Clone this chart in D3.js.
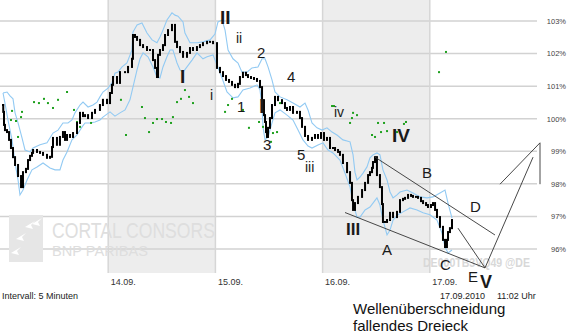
<!DOCTYPE html>
<html>
<head>
<meta charset="utf-8">
<script src="https://cdn.jsdelivr.net/npm/d3@7"></script>
<style>
  body { margin: 0; background: #fff; }
  svg { display: block; font-family: "Liberation Sans", Arial, sans-serif; }
</style>
</head>
<body>
<div id="chart"></div>
<script>
// Tage (13.09. wird nicht beschriftet)
const days = ["13.09.", "14.09.", "15.09.", "16.09.", "17.09."];
const shadedDays = [1, 3];
const yTicks = [96, 97, 98, 99, 100, 101, 102, 103];

// Kurs in % (Zeit in Handelstagen ab 13.09.)
const priceT = [0.019,0.021,0.028,0.037,0.056,0.075,0.093,0.112,0.131,0.159,0.187,0.205,0.233,0.252,0.271,0.289,0.299,0.336,0.364,0.392,0.429,0.457,0.476,0.485,0.522,0.550,0.578,0.597,0.616,0.644,0.672,0.709,0.737,0.765,0.784,0.812,0.849,0.877,0.923,0.951,0.989,
  1.017,1.035,1.045,1.082,1.110,1.157,1.185,1.222,1.231,1.250,1.269,1.297,1.325,1.362,1.390,1.418,1.437,1.455,1.465,1.483,1.511,1.530,1.558,1.595,1.623,1.642,1.670,1.698,1.735,1.763,1.791,1.828,1.856,1.884,1.922,1.950,1.978,
  2.015,2.043,2.071,2.099,2.127,2.155,2.183,2.211,2.229,2.257,2.285,2.304,2.332,2.360,2.388,2.416,2.435,2.453,2.463,2.472,2.481,2.491,2.509,2.528,2.556,2.584,2.621,2.649,2.668,2.696,2.724,2.761,2.789,2.808,2.836,2.864,2.901,2.929,2.957,2.985,
  3.013,3.041,3.069,3.097,3.116,3.144,3.162,3.190,3.228,3.256,3.274,3.284,3.302,3.330,3.368,3.396,3.424,3.442,3.461,3.470,3.489,3.507,3.535,3.554,3.563,3.582,3.601,3.629,3.657,3.694,3.722,3.750,3.769,3.797,3.825,3.843,3.871,3.890,3.918,3.937,3.965,3.983,
  4.011,4.030,4.049,4.067,4.095,4.123,4.142,4.160,4.170,4.188,4.207];
const price = [100.42,100.21,99.81,99.65,99.59,99.35,99.10,98.82,98.58,98.24,97.90,98.36,98.46,98.73,98.86,98.95,99.04,98.98,98.95,98.89,98.80,98.83,99.13,99.41,99.20,99.44,99.59,99.35,99.50,99.44,99.56,99.87,100.18,100.08,100.11,100.02,100.18,100.27,100.42,100.58,100.48,
  100.79,101.04,101.28,101.10,101.43,101.43,101.59,101.84,102.57,102.51,102.42,102.26,102.20,102.11,102.11,101.80,101.56,101.28,101.96,102.11,102.26,102.57,102.72,102.88,102.36,102.20,102.05,101.90,102.02,102.17,102.11,102.20,102.26,102.32,102.36,102.36,102.32,
  101.56,101.43,101.31,101.19,101.13,101.04,100.97,101.07,101.28,101.41,101.34,101.28,101.25,101.22,101.16,100.97,100.57,100.11,99.90,99.59,99.44,99.72,100.02,100.42,100.67,100.57,100.48,100.33,100.27,100.36,100.18,100.21,100.02,99.75,99.47,99.35,99.41,99.50,99.41,99.56,
  99.35,99.41,99.10,99.10,99.04,98.98,98.89,98.64,98.36,98.03,97.50,97.20,97.41,97.60,97.81,98.03,98.27,98.36,98.49,98.67,98.82,98.27,97.90,97.38,96.83,96.83,96.89,97.11,96.98,97.14,97.50,97.54,97.57,97.66,97.63,97.60,97.60,97.57,97.47,97.41,97.35,97.29,
  97.35,97.41,97.20,96.98,96.68,96.28,96.06,96.28,96.52,96.64,96.89];

// Bollinger-Bänder
const upperT = [0.019,0.056,0.084,0.112,0.131,0.159,0.196,0.224,0.271,0.299,0.364,0.429,0.485,0.532,0.578,0.625,0.662,0.690,0.737,0.765,0.812,0.858,0.896,0.923,0.951,0.998,1.035,1.063,1.091,1.129,1.175,1.222,1.231,1.269,1.315,1.362,1.409,1.455,1.483,1.511,1.548,1.595,1.623,1.651,1.698,1.716,1.763,1.828,1.884,1.950,1.996,2.024,2.062,2.090,2.118,2.164,2.211,2.248,2.295,2.341,2.397,2.435,2.463,2.491,2.528,2.556,2.603,2.668,2.724,2.789,2.836,2.864,2.901,2.948,2.994,3.041,3.088,3.134,3.190,3.256,3.284,3.302,3.321,3.349,3.377,3.414,3.442,3.470,3.507,3.535,3.563,3.601,3.629,3.657,3.694,3.722,3.787,3.843,3.909,3.974,4.030,4.095,4.142,4.170,4.207];
const upper = [100.79,100.82,100.70,100.61,100.18,99.87,99.41,99.04,98.98,99.10,99.20,99.26,99.56,99.65,99.87,99.87,99.96,100.18,100.42,100.51,100.36,100.42,100.51,100.67,100.82,100.94,101.10,101.40,101.43,101.59,101.71,102.11,102.66,102.88,102.94,102.63,102.42,102.33,102.51,102.72,103.03,103.25,103.18,103.15,102.97,102.63,102.33,102.33,102.36,102.42,102.60,102.97,103.03,102.72,102.11,101.84,101.71,101.43,101.43,101.56,101.59,101.84,101.84,101.59,101.19,100.82,100.67,100.58,100.48,100.36,100.48,100.27,99.87,99.72,99.65,99.72,99.59,99.50,99.35,99.29,98.89,98.36,98.12,98.21,98.33,98.52,98.80,98.89,98.95,98.89,98.43,98.12,97.75,97.57,97.66,97.75,97.81,97.72,97.60,97.57,97.60,97.72,97.81,97.41,96.95];
const lowerT = [0.019,0.037,0.065,0.103,0.131,0.159,0.177,0.205,0.243,0.289,0.336,0.392,0.457,0.504,0.550,0.578,0.616,0.662,0.709,0.756,0.784,0.830,0.877,0.923,0.951,1.017,1.063,1.110,1.157,1.203,1.231,1.269,1.297,1.325,1.371,1.418,1.455,1.483,1.511,1.548,1.577,1.604,1.642,1.670,1.698,1.735,1.782,1.828,1.884,1.922,1.978,2.015,2.062,2.108,2.164,2.211,2.257,2.323,2.388,2.416,2.435,2.444,2.463,2.491,2.528,2.556,2.603,2.668,2.724,2.771,2.817,2.864,2.901,2.957,3.004,3.050,3.097,3.162,3.209,3.256,3.284,3.321,3.349,3.396,3.442,3.470,3.507,3.535,3.563,3.601,3.629,3.657,3.703,3.750,3.815,3.881,3.937,4.002,4.067,4.114,4.142,4.170,4.207];
const lower = [100.79,100.48,99.96,99.35,98.64,98.12,97.66,97.81,98.12,98.43,98.52,98.64,98.49,98.43,98.43,98.73,98.98,99.35,99.50,99.75,99.87,99.87,99.90,99.96,100.05,100.21,100.08,100.18,100.27,100.58,100.97,101.50,101.84,102.02,101.90,101.59,101.28,101.25,101.59,101.90,102.11,102.11,101.71,101.50,101.43,101.59,101.80,102.02,101.84,101.90,101.96,101.65,101.25,100.82,100.64,100.67,100.88,100.94,101.04,100.88,100.36,99.75,99.35,99.44,99.87,100.18,100.27,100.11,99.96,99.65,99.35,99.16,99.10,99.19,99.26,99.04,98.95,98.73,98.33,97.90,97.41,96.98,96.98,97.20,97.29,97.41,97.57,97.35,96.89,96.43,96.58,96.89,97.05,97.14,97.26,97.20,97.11,97.05,96.89,96.49,96.06,95.88,95.97];

// Parabolic SAR (grüne Punkte)
const sarT = [0.093,0.103,0.140,0.159,0.187,0.196,0.308,0.354,0.401,0.438,0.485,0.532,0.616,0.681,0.709,0.737,0.840,1.119,1.166,1.315,1.343,1.381,1.418,1.455,1.502,1.539,1.586,1.604,1.642,1.679,1.716,1.754,1.791,2.090,2.118,2.155,2.257,2.313,2.407,2.444,2.519,2.537,2.575,2.603,3.088,3.106,3.256,3.274,3.284,3.321,3.461,3.489,3.517,3.545,3.573,3.601,3.694,3.759,3.778,4.086,4.151];
const sar = [99.96,100.24,99.93,99.44,100.05,100.21,100.51,100.48,100.61,100.48,100.33,100.58,100.82,100.27,99.90,99.75,99.87,100.58,99.50,100.36,100.02,99.59,99.87,99.99,99.99,99.90,99.87,100.05,100.51,100.61,100.88,100.67,100.48,100.21,100.42,100.61,100.27,99.72,99.90,99.75,99.29,99.56,99.59,100.48,100.39,100.39,99.87,100.02,100.18,100.11,99.50,99.44,99.87,99.59,99.87,99.62,99.59,99.84,99.90,101.43,102.05];

// Trendlinien: [t1, p1, t2, p2]
const trendLines = [
  [3.489, 98.82, 4.608, 96.43],
  [3.209, 97.12, 4.515, 95.42],
  [4.263, 96.64, 4.515, 95.42],
  [4.515, 95.42, 4.963, 98.82],
  [5.028, 99.26, 4.655, 97.99],
  [5.028, 99.26, 5.028, 97.99]
];

// Wellen-Beschriftung
const waveLabels = [
  {t: "II", x: 220, y: 24, s: 19, b: true},
  {t: "ii", x: 236, y: 43, s: 14},
  {t: "2", x: 257, y: 58, s: 15},
  {t: "I", x: 180, y: 83, s: 19, b: true},
  {t: "i", x: 210, y: 100, s: 14},
  {t: "1", x: 237, y: 112, s: 15},
  {t: "I", x: 259, y: 113, s: 21, b: true},
  {t: "4", x: 287, y: 82, s: 15},
  {t: "3", x: 263, y: 150, s: 15},
  {t: "5", x: 297, y: 160, s: 15},
  {t: "iii", x: 305, y: 172, s: 14},
  {t: "iv", x: 334, y: 117, s: 14},
  {t: "IV", x: 392, y: 142, s: 19, b: true},
  {t: "III", x: 346, y: 235, s: 17, b: true},
  {t: "A", x: 382, y: 255, s: 15},
  {t: "B", x: 422, y: 178, s: 15},
  {t: "C", x: 440, y: 270, s: 15},
  {t: "D", x: 470, y: 212, s: 15},
  {t: "E", x: 468, y: 282, s: 15},
  {t: "V", x: 480, y: 288, s: 18, b: true}
];

const width = 568, height = 333;
const plotRight = 537, plotBottom = 273;

const svg = d3.select("#chart").append("svg")
  .attr("width", width)
  .attr("height", height);

const x = d3.scaleLinear().domain([0, 5]).range([1, plotRight]);
const y = d3.scaleLinear().domain([96, 103]).range([249, 21]);

// Tagesflächen
svg.append("g").selectAll("rect")
  .data(shadedDays)
  .join("rect")
  .attr("x", d => x(d))
  .attr("y", 0)
  .attr("width", d => x(d + 1) - x(d))
  .attr("height", plotBottom)
  .attr("fill", "#ededed");

// Gitter
svg.append("g").selectAll("line")
  .data(yTicks)
  .join("line")
  .attr("x1", 0).attr("x2", plotRight)
  .attr("y1", d => y(d)).attr("y2", d => y(d))
  .attr("stroke", "#d2d2d2")
  .attr("stroke-width", 1.5);

svg.append("g").selectAll("line")
  .data([1, 2, 3, 4])
  .join("line")
  .attr("x1", d => x(d)).attr("x2", d => x(d))
  .attr("y1", 0).attr("y2", plotBottom)
  .attr("stroke", "#d6d6d6")
  .attr("stroke-width", 1.5);

// Wasserzeichen
const wm = svg.append("g");
wm.append("rect").attr("x", 9).attr("y", 215).attr("width", 34).attr("height", 47).attr("fill", "#e6e6e6");
[[30, 224], [37, 221], [21, 236], [16, 250]].forEach(([cx, cy]) => {
  wm.append("path")
    .attr("d", `M${cx - 5},${cy + 3} L${cx + 5},${cy - 3} L${cx + 1},${cy + 1} L${cx + 3},${cy + 5} Z`)
    .attr("fill", "#fff");
});
wm.append("text").attr("x", 52).attr("y", 238)
  .attr("font-size", 22).attr("fill", "#dedede")
  .attr("textLength", 163).attr("lengthAdjust", "spacingAndGlyphs")
  .text("CORTAL CONSORS");
wm.append("text").attr("x", 52).attr("y", 256)
  .attr("font-size", 15).attr("fill", "#dedede")
  .attr("textLength", 96).attr("lengthAdjust", "spacingAndGlyphs")
  .text("BNP PARIBAS");
wm.append("text").attr("x", 423).attr("y", 267)
  .attr("font-size", 13).attr("font-weight", "bold").attr("fill", "#d8d8d8")
  .attr("textLength", 107).attr("lengthAdjust", "spacingAndGlyphs")
  .text("DE000TB3VQ49 @DE");

// Bollinger-Bänder
const line = d3.line().x(d => x(d[0])).y(d => y(d[1]));
[d3.zip(upperT, upper), d3.zip(lowerT, lower)].forEach(band => {
  svg.append("path")
    .datum(band)
    .attr("d", line)
    .attr("fill", "none")
    .attr("stroke", "#92caf3")
    .attr("stroke-width", 1.1);
});

// SAR
svg.append("g").selectAll("rect")
  .data(d3.zip(sarT, sar))
  .join("rect")
  .attr("x", d => x(d[0]) - 1)
  .attr("y", d => y(d[1]) - 1)
  .attr("width", 2).attr("height", 2)
  .attr("fill", "#1ea01e");

// Kurs als kleine Kerzen
const pts = d3.zip(priceT, price);
svg.append("g").selectAll("rect")
  .data(pts)
  .join("rect")
  .attr("x", d => x(d[0]) - 1)
  .attr("y", (d, i) => {
    const prev = i > 0 ? pts[i - 1][1] : d[1];
    return Math.min(y(prev), y(d[1])) - 1;
  })
  .attr("width", 2)
  .attr("height", (d, i) => {
    const prev = i > 0 ? pts[i - 1][1] : d[1];
    return Math.abs(y(prev) - y(d[1])) + 2;
  })
  .attr("fill", "#000");

// Trendlinien
svg.append("g").selectAll("line")
  .data(trendLines)
  .join("line")
  .attr("x1", d => x(d[0])).attr("y1", d => y(d[1]))
  .attr("x2", d => x(d[2])).attr("y2", d => y(d[3]))
  .attr("stroke", "#333")
  .attr("stroke-width", 0.9);

// Beschriftung der Wellen
svg.append("g").selectAll("text")
  .data(waveLabels)
  .join("text")
  .attr("x", d => d.x).attr("y", d => d.y)
  .attr("font-size", d => d.s)
  .attr("font-weight", d => d.b ? "bold" : "normal")
  .attr("fill", "#1a1a1a")
  .text(d => d.t);

// Achsen
const yAxis = svg.append("g")
  .attr("transform", `translate(566,0)`)
  .call(d3.axisRight(y).tickValues(yTicks).tickSize(0).tickPadding(0).tickFormat(d => d + "%"));
yAxis.select(".domain").remove();
yAxis.selectAll("text")
  .attr("text-anchor", "end")
  .attr("font-size", 7.5)
  .attr("fill", "#444");

const xAxis = svg.append("g")
  .attr("transform", `translate(0,${plotBottom})`)
  .call(d3.axisBottom(x).tickValues([1, 2, 3, 4]).tickSize(0).tickPadding(6).tickFormat(d => days[d]));
xAxis.select(".domain").remove();
xAxis.selectAll("text")
  .attr("text-anchor", "start")
  .attr("dx", 2)
  .attr("font-size", 9)
  .attr("fill", "#333");

// Fußzeile
svg.append("text").attr("x", 2).attr("y", 299).attr("font-size", 9).attr("fill", "#222").text("Intervall: 5 Minuten");
svg.append("text").attr("x", 440).attr("y", 299).attr("font-size", 9).attr("fill", "#222").text("17.09.2010");
svg.append("text").attr("x", 497).attr("y", 299).attr("font-size", 9).attr("fill", "#222").text("11:02 Uhr");
svg.append("text").attr("x", 353).attr("y", 314).attr("font-size", 15).attr("fill", "#111").text("Wellenüberschneidung");
svg.append("text").attr("x", 353).attr("y", 331).attr("font-size", 15).attr("fill", "#111").text("fallendes Dreieck");
</script>
</body>
</html>
